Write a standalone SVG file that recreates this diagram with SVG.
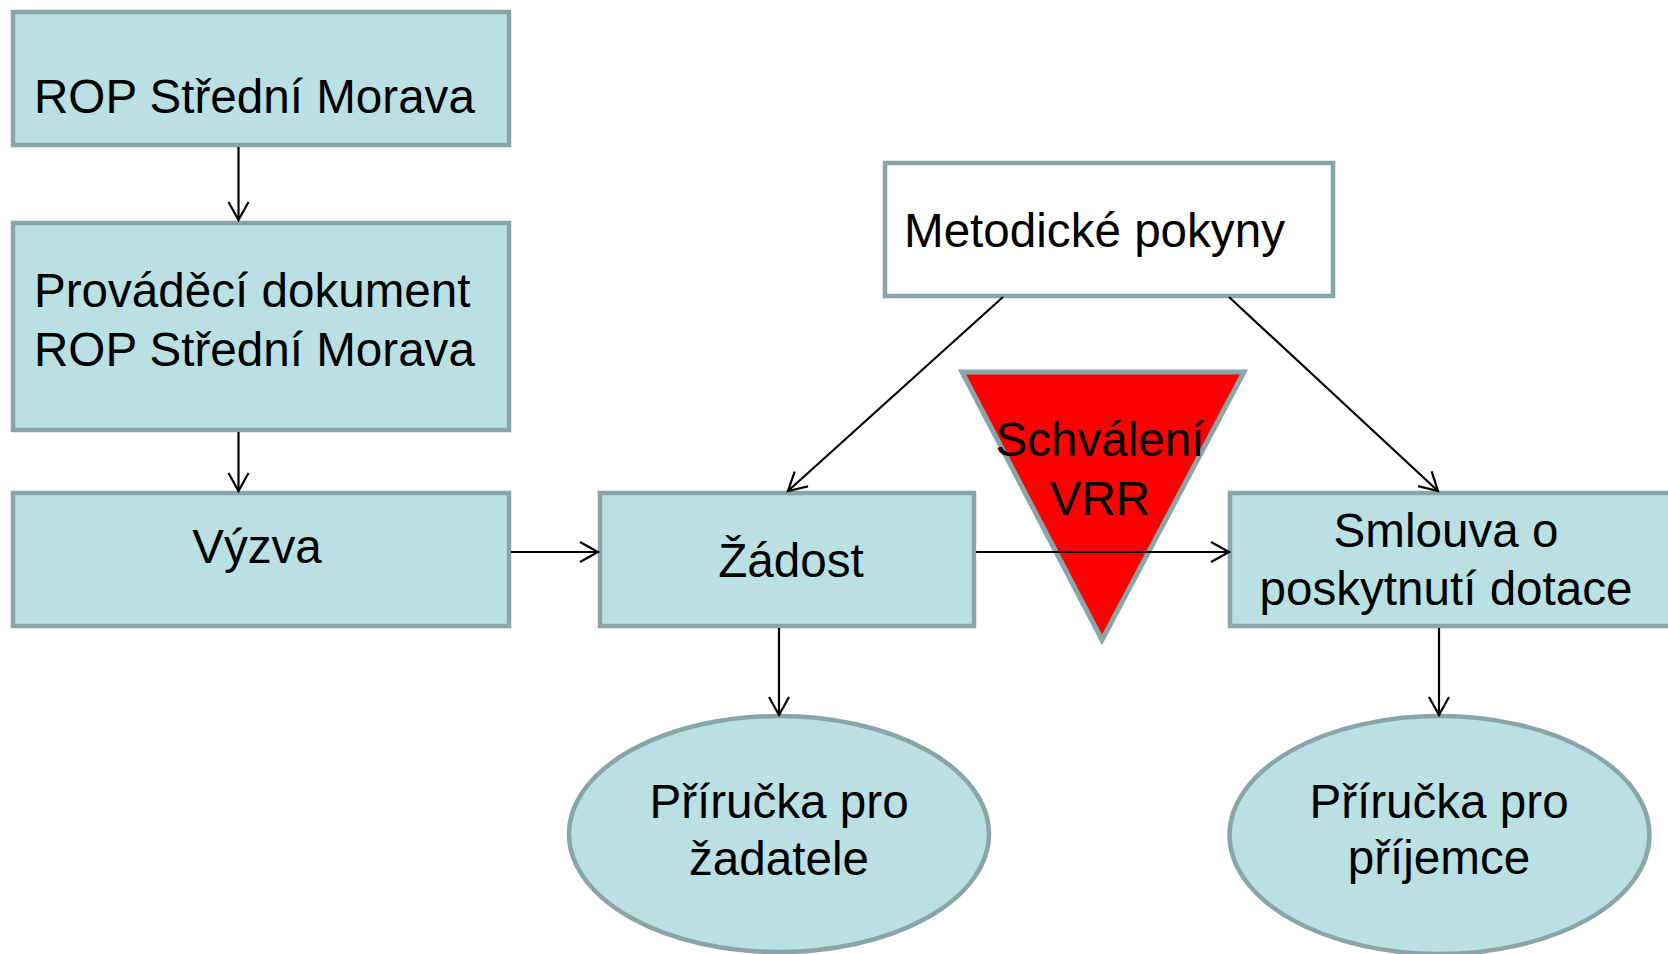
<svg xmlns="http://www.w3.org/2000/svg" width="1668" height="954" viewBox="0 0 1668 954">
  <defs>
    <style>
      .box { fill: #BAE0E3; stroke: #8AA5A8; stroke-width: 4.5; }
      .wbox { fill: #FFFFFF; stroke: #8AA5A8; stroke-width: 4.5; }
      .tri { fill: #FF0000; stroke: #8AA5A8; stroke-width: 5; stroke-linejoin: miter; }
      .t { font-family: "Liberation Sans", Arial, sans-serif; font-size: 47.6px; fill: #000000; }
      .c { text-anchor: middle; }
      .conn { stroke: #000000; stroke-width: 2.2; fill: none; marker-end: url(#arr); }
    </style>
    <marker id="arr" markerUnits="userSpaceOnUse" markerWidth="24" markerHeight="24" viewBox="-20 -12 22 24" refX="0" refY="0" orient="auto">
      <path d="M -18 -10 L 0 0 L -18 10" fill="none" stroke="#000000" stroke-width="2.2"/>
    </marker>
  </defs>
  <rect width="1668" height="954" fill="#FFFFFF"/>

  <g id="rop">
    <rect class="box" x="13" y="12" width="496" height="133"/>
    <text class="t" x="34" y="113">ROP Střední Morava</text>
  </g>
  <g id="provadeci">
    <rect class="box" x="13" y="223" width="496" height="207"/>
    <text class="t" x="34" y="307">Prováděcí dokument</text>
    <text class="t" x="34" y="366">ROP Střední Morava</text>
  </g>
  <g id="vyzva">
    <rect class="box" x="13" y="493" width="496" height="133"/>
    <text class="t c" x="257" y="563">Výzva</text>
  </g>
  <g id="metodicke">
    <rect class="wbox" x="885" y="163" width="448" height="133"/>
    <text class="t" x="904" y="247">Metodické pokyny</text>
  </g>
  <g id="schvaleni">
    <polygon class="tri" points="962,372 1244,372 1102,640"/>
    <text class="t c" x="1100" y="456">Schválení</text>
    <text class="t c" x="1100" y="515">VRR</text>
  </g>
  <g id="zadost">
    <rect class="box" x="600" y="493" width="374" height="133"/>
    <text class="t c" x="791" y="577">Žádost</text>
  </g>
  <g id="smlouva">
    <rect class="box" x="1230" y="493" width="520" height="133"/>
    <text class="t c" x="1446" y="547">Smlouva o</text>
    <text class="t c" x="1446" y="605">poskytnutí dotace</text>
  </g>
  <g id="prirucka-zadatel">
    <ellipse class="box" cx="779" cy="834" rx="210" ry="118"/>
    <text class="t c" x="779" y="818">Příručka pro</text>
    <text class="t c" x="779" y="875">žadatele</text>
  </g>
  <g id="prirucka-prijemce">
    <ellipse class="box" cx="1439.5" cy="835" rx="210" ry="119"/>
    <text class="t c" x="1439" y="818">Příručka pro</text>
    <text class="t c" x="1439" y="874">příjemce</text>
  </g>

  <g id="connectors">
    <line class="conn" x1="238.5" y1="147" x2="238.5" y2="220"/>
    <line class="conn" x1="238.5" y1="432" x2="238.5" y2="491"/>
    <line class="conn" x1="511" y1="552" x2="598" y2="552"/>
    <line class="conn" x1="976" y1="552" x2="1229" y2="552"/>
    <line class="conn" x1="1003" y1="297" x2="788" y2="491"/>
    <line class="conn" x1="1229" y1="297" x2="1438" y2="491"/>
    <line class="conn" x1="779" y1="628" x2="779" y2="715"/>
    <line class="conn" x1="1439" y1="628" x2="1439" y2="715"/>
  </g>
</svg>
